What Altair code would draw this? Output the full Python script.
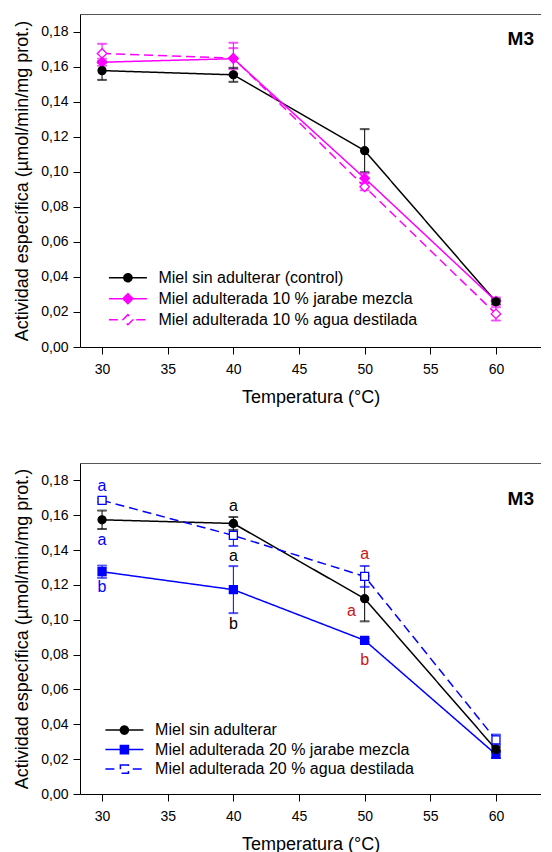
import altair as alt
import pandas as pd

# ---------------- data ----------------
T = [30, 40, 50, 60]

series_10 = ["Miel sin adulterar (control)",
             "Miel adulterada 10 % jarabe mezcla",
             "Miel adulterada 10 % agua destilada"]
control_10 = [0.1577, 0.1553, 0.1120, 0.0258]
control_10_err = [0.0053, 0.0040, 0.0123, 0.0015]
jarabe_10 = [0.1625, 0.1645, 0.0963, 0.0262]
jarabe_10_err = [0.0020, 0.0060, 0.0028, 0.0020]
agua_10 = [0.1675, 0.1648, 0.0914, 0.0189]
agua_10_err = [0.0055, 0.0088, 0.0020, 0.0038]

series_20 = ["Miel sin adulterar",
             "Miel adulterada 20 % jarabe mezcla",
             "Miel adulterada 20 % agua destilada"]
control_20 = [0.1574, 0.1553, 0.1121, 0.0256]
control_20_err = [0.0053, 0.0037, 0.0130, 0.0015]
jarabe_20 = [0.1276, 0.1173, 0.0882, 0.0227]
jarabe_20_err = [0.0035, 0.0135, 0.0010, 0.0020]
agua_20 = [0.1686, 0.1484, 0.1249, 0.0311]
agua_20_err = [0.0010, 0.0060, 0.0060, 0.0030]

letras_txt = ["a", "a", "b", "a", "a", "b", "a", "a", "b"]
letras_T = [30, 30, 30, 40, 40, 40, 50, 49, 50]
letras_grupo = [30, 30, 30, 40, 40, 40, 50, 50, 50]
letras_y = [0.1770, 0.1456, 0.1186, 0.1656, 0.1368, 0.0978, 0.1380, 0.1049, 0.0768]

x_ticks = [30, 35, 40, 45, 50, 55, 60]
y_ticks = [0.00, 0.02, 0.04, 0.06, 0.08, 0.10, 0.12, 0.14, 0.16, 0.18]
panel_label = "M3"
x_title = "Temperatura (°C)"
y_title = "Actividad específica (µmol/min/mg prot.)"

# ---------------- styling ----------------
FONT = "Liberation Sans"
BLACK = "#000000"
MAGENTA = "#ff00ff"
BLUE = "#0000ff"
RED = "#cc1414"

xs = alt.Scale(domain=[28.32, 63.43], nice=False, zero=False)
ys = alt.Scale(domain=[0, 0.19], nice=False, zero=False)

# legend symbols (unit = 7.6 px at symbol size 231)
LEG_SIZE = 231
CIRC = ("M-0.53,0C-0.53,-0.29,-0.29,-0.53,0,-0.53C0.29,-0.53,0.53,-0.29,0.53,0"
        "C0.53,0.29,0.29,0.53,0,0.53C-0.29,0.53,-0.53,0.29,-0.53,0Z")
DIAM = "M-0.66,0L0,-0.66L0.66,0L0,0.66Z"
SQR = "M-0.53,-0.53H0.53V0.53H-0.53Z"
SOLID = "M-2.5,0H2.5"
DASHED = "M-2.5,0H-1.1M1.1,0H2.5"


def x_axis():
    return alt.Axis(values=x_ticks, title=x_title, grid=False, tickSize=7,
                    labelFontSize=14, titleFontSize=18, labelPadding=8,
                    titlePadding=12, domainColor=BLACK, tickColor=BLACK,
                    labelColor=BLACK, titleColor=BLACK, titleFontWeight="normal",
                    labelFont=FONT, titleFont=FONT, labelFlush=False,
                    labelOverlap=False)


def y_axis():
    return alt.Axis(values=y_ticks, title=y_title, grid=False, tickSize=7,
                    labelExpr="replace(format(datum.value, '.2f'), '.', ',')",
                    labelFontSize=14, titleFontSize=18, labelPadding=5,
                    titlePadding=9, domainColor=BLACK, tickColor=BLACK,
                    labelColor=BLACK, titleColor=BLACK, titleFontWeight="normal",
                    labelFont=FONT, titleFont=FONT, labelFlush=False,
                    labelOverlap=False)


def panel(series, vals, errs, strokes, fills, shapes, sizes, dashes, leg_paths,
          leg_x, leg_y, leg_rowpad, leg_laboff, h, title_dy, letters=False):
    rows = []
    for name, v, e in zip(series, vals, errs):
        for t, vi, ei in zip(T, v, e):
            rows.append({"serie": name, "T": t, "v": vi, "lo": vi - ei, "hi": vi + ei})
    df = pd.DataFrame(rows)

    stroke_s = alt.Scale(domain=series, range=strokes)
    fill_s = alt.Scale(domain=series, range=fills)
    dash_s = alt.Scale(domain=series, range=dashes)
    shape_s = alt.Scale(domain=series, range=leg_paths)

    X = alt.X("T:Q", scale=xs, axis=None)
    Y = lambda f: alt.Y(f, scale=ys, axis=None)
    base = alt.Chart(df)

    # legend-carrying layer first (its explicit legend settings win the merge)
    leg = alt.Legend(orient="none", legendX=leg_x, legendY=leg_y, title=None,
                     labelFontSize=16, labelFont=FONT, labelColor=BLACK,
                     labelLimit=500, symbolSize=LEG_SIZE, symbolStrokeWidth=1.5,
                     symbolOpacity=1, labelOffset=leg_laboff, padding=0,
                     rowPadding=leg_rowpad)
    legend_layer = base.mark_point(size=LEG_SIZE, strokeWidth=1.5, opacity=0).encode(
        x=alt.X("T:Q", scale=xs,
                axis=alt.Axis(orient="top", labels=False, ticks=False, title=None,
                              domainColor="#555555", grid=False)),
        y=alt.Y("v:Q", scale=ys, axis=y_axis()),
        shape=alt.Shape("serie:N", scale=shape_s, legend=leg),
        fill=alt.Fill("serie:N", scale=fill_s, legend=leg),
        stroke=alt.Stroke("serie:N", scale=stroke_s, legend=leg))

    err = base.mark_rule(strokeWidth=1).encode(
        x=alt.X("T:Q", scale=xs, axis=x_axis()),
        y=Y("lo:Q"),
        y2="hi:Q",
        stroke=alt.Stroke("serie:N", scale=stroke_s, legend=None))
    cap_lo = base.mark_tick(orient="horizontal", size=9, thickness=1).encode(
        x=X, y=Y("lo:Q"),
        stroke=alt.Stroke("serie:N", scale=stroke_s, legend=None))
    cap_hi = base.mark_tick(orient="horizontal", size=9, thickness=1).encode(
        x=X, y=Y("hi:Q"),
        stroke=alt.Stroke("serie:N", scale=stroke_s, legend=None))
    lines = base.mark_line(strokeWidth=1.5).encode(
        x=X, y=Y("v:Q"),
        detail="serie:N",
        stroke=alt.Stroke("serie:N", scale=stroke_s, legend=None),
        strokeDash=alt.StrokeDash("serie:N", scale=dash_s, legend=None))

    layers = [legend_layer, err, cap_lo, cap_hi, lines]
    for name, shp, sz in zip(series[::-1], shapes[::-1], sizes[::-1]):
        layers.append(
            base.transform_filter(alt.datum.serie == name)
            .mark_point(shape=shp, size=sz, strokeWidth=1.3, opacity=1)
            .encode(x=X, y=Y("v:Q"),
                    fill=alt.Fill("serie:N", scale=fill_s, legend=None),
                    stroke=alt.Stroke("serie:N", scale=stroke_s, legend=None)))

    if letters:
        ldf = pd.DataFrame({"txt": letras_txt, "T": letras_T,
                            "g": letras_grupo, "v": letras_y})
        layers.append(
            alt.Chart(ldf).mark_text(fontSize=16, font=FONT, baseline="middle")
            .encode(x=X, y=Y("v:Q"), text="txt:N",
                    color=alt.Color("g:O", scale=alt.Scale(domain=[30, 40, 50],
                                                           range=[BLUE, BLACK, RED]),
                                    legend=None)))

    return alt.layer(*layers).resolve_axis(x="independent", y="independent").properties(
        width=461, height=h,
        title=alt.TitleParams(panel_label, anchor="end", fontSize=19,
                              fontWeight="bold", font=FONT, color=BLACK,
                              baseline="middle", offset=0, dx=-7, dy=title_dy))


top = panel(series_10, [control_10, jarabe_10, agua_10],
            [control_10_err, jarabe_10_err, agua_10_err],
            [BLACK, MAGENTA, MAGENTA], [BLACK, MAGENTA, "#ffffff"],
            ["circle", "diamond", "diamond"], [64, 90, 90],
            [[1, 0], [1, 0], [9, 5]],
            [SOLID + CIRC, SOLID + DIAM, DASHED + DIAM],
            39.4, 255.2, 4, 22, 333, 44)
bottom = panel(series_20, [control_20, jarabe_20, agua_20],
               [control_20_err, jarabe_20_err, agua_20_err],
               [BLACK, BLUE, BLUE], [BLACK, BLUE, "#ffffff"],
               ["circle", "square", "square"], [64, 64, 64],
               [[1, 0], [1, 0], [9, 5]],
               [SOLID + CIRC, SOLID + SQR, DASHED + SQR],
               35.9, 258.6, 2.5, 22.2, 331, 55, letters=True)

chart = alt.vconcat(top, bottom, spacing=57).resolve_scale(
    stroke="independent", fill="independent", strokeDash="independent",
    shape="independent", color="independent"
).resolve_legend(
    stroke="independent", fill="independent", shape="independent"
).properties(
    padding={"left": 5, "top": 6, "right": 0, "bottom": 0}
).configure_view(stroke=None)

chart.save("out.html", embed_options={"renderer": "svg", "actions": False})
